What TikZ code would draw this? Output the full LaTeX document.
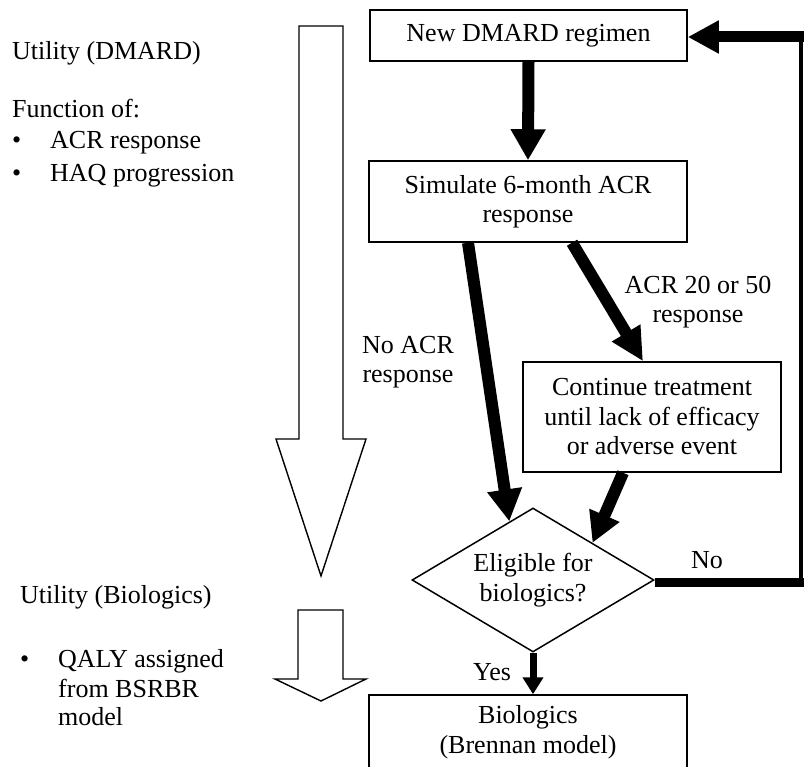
\documentclass[tikz,border=0pt]{standalone}
\usepackage{fontspec}
\setmainfont{Liberation Serif}
\usetikzlibrary{arrows.meta,shapes.geometric,calc}
\tikzset{
  txt/.style={font=\fontsize{26}{29.5}\selectfont, inner sep=0pt},
  box/.style={draw, line width=1.5pt, align=center, inner sep=0pt, font=\fontsize{26}{29.5}\selectfont},
  thick arrow/.style={line width=12pt, -{Triangle[length=31pt,width=33pt]}},
  hollow/.style={draw, line width=1.4pt, line join=miter},
}
\begin{document}
\begin{tikzpicture}[x=1pt,y=-1pt]
\useasboundingbox (0,0) rectangle (804,767);
\clip (0,0) rectangle (804,767);
\fill[white] (0,0) rectangle (804,767);

% boxes
\node[box, minimum width=317pt, minimum height=51pt] (b1) at (528.5,35.5) {New DMARD regimen};
\node[box, minimum width=318pt, minimum height=81pt] (b2) at (528,201.5) {Simulate 6-month ACR\\response};
\node[box, minimum width=258pt, minimum height=110pt] (b3) at (652,417) {Continue treatment\\until lack of efficacy\\or adverse event};
\node[box, shape=diamond, minimum width=242pt, minimum height=144pt, aspect=1.68] (dia) at (533,580) {Eligible for\\biologics?};
\node[box, minimum width=318pt, minimum height=74pt] (b4) at (528,732) {Biologics\\(Brennan model)};

% connectors
\draw[thick arrow] (b1.south) -- (b2.north);
\draw[line width=12pt, -{Triangle[length=32pt,width=33pt]}] ([xshift=-60pt]b2.south) -- (dia.112);
\draw[line width=12pt, -{Triangle[length=33pt,width=31pt]}] ([xshift=44pt]b2.south) -- ([xshift=-9pt]b3.north);
\draw[line width=12pt, -{Triangle[length=30pt,width=31pt]}] ([xshift=-29pt]b3.south) -- (dia.32);
\draw[line width=7pt, -{Triangle[length=17pt,width=20pt]}] (dia.south) -- (dia.south |- b4.north);

\coordinate (cB) at (801,582);
\coordinate (cT) at (801,37);
\draw[line width=9pt] (dia.east |- cB) -- ([xshift=3pt]cB);
\draw[line width=4pt] ([yshift=4pt]cB) -- ([yshift=-5pt]cT);
\draw[line width=11pt, -{Triangle[length=31pt,width=31pt]}] ([xshift=3pt]cT) -- (cT -| b1.east);

% connector labels
\node[txt, align=center] (lno) at (408,362) {No ACR\\response};
\node[txt, align=center] (lacr) at (698,302) {ACR 20 or 50\\response};
\node[txt, anchor=base] (lNo) at (707,568) {No};
\node[txt, anchor=base] (lYes) at (492,680) {Yes};

% hollow arrows
\draw[hollow] (299,26) -- (343,26) -- (343,439) -- (366,439) -- (321,576) -- (276,439) -- (299,439) -- cycle;
\draw[hollow] (298,610) -- (343,610) -- (343,679) -- (366,679) -- (321,701) -- (275,679) -- (298,679) -- cycle;

% left texts
\node[txt, anchor=base west] (t1) at (12,60) {Utility (DMARD)};
\node[txt, anchor=base west] (t2) at (12,118) {Function of:};
\node[txt, anchor=base west] (bu1) at (12,149) {\textbullet};
\node[txt, anchor=base west] (t3) at (50,149) {ACR response};
\node[txt, anchor=base west] (bu2) at (12,182) {\textbullet};
\node[txt, anchor=base west] (t4) at (50,182) {HAQ progression};
\node[txt, anchor=base west] (t5) at (20,603) {Utility (Biologics)};
\node[txt, anchor=base west] (bu3) at (20,667) {\textbullet};
\node[txt, anchor=base west] (t6) at (58,667) {QALY assigned};
\node[txt, anchor=base west] (t7) at (58,697) {from BSRBR};
\node[txt, anchor=base west] (t8) at (58,725) {model};
\end{tikzpicture}
\end{document}
